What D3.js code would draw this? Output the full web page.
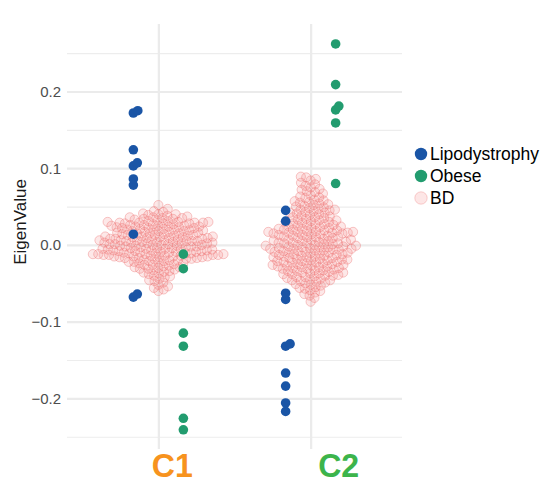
<!DOCTYPE html>
<html>
<head>
<meta charset="utf-8">
<script src="https://cdn.jsdelivr.net/npm/d3@7"></script>
<style>
  body { margin: 0; background: #fff; }
  svg { display: block; font-family: "Liberation Sans", Arial, Helvetica, sans-serif; }
</style>
</head>
<body>
<div id="chart"></div>
<script>
// clusters and labels
var categories = ["C1", "C2"];
var catColors = ["#F7931E", "#3CB44B"];
var yTicks = [-0.2, -0.1, 0.0, 0.1, 0.2];
var yMinor = [-0.25, -0.15, -0.05, 0.05, 0.15, 0.25];

// samples shown in colour
var lipoC1 = [0.172, 0.175, 0.124, 0.103, 0.107, 0.078, 0.086, 0.014, -0.068, -0.064];
var obeseC1 = [-0.012, -0.031, -0.115, -0.132, -0.226, -0.241];
var lipoC2 = [0.045, 0.031, -0.063, -0.071, -0.132, -0.129, -0.167, -0.184, -0.206, -0.217];
var obeseC2 = [0.262, 0.209, 0.176, 0.181, 0.159, 0.080];

// BD samples, values in thousandths
var bdC1 = [52, 47, 44, 43, 41, 40, 39, 38, 40, 37, 36, 35, 35, 34, 34, 33, 36,
  32, 31, 31, 30, 30, 30, 29, 29, 29, 29, 28, 28, 28, 27,
  27, 26, 26, 25, 25, 25, 24, 24, 24, 23, 23, 22, 22,
  22, 21, 21, 20, 20, 20, 19, 19, 18, 18, 18,
  17, 17, 16, 16, 15, 15, 15, 14, 14, 13, 13, 13,
  12, 12, 11, 11, 11, 10, 10, 10, 9, 9, 9, 8, 8, 8,
  7, 7, 6, 6, 6, 6, 5, 5, 5, 5, 4, 4, 4, 3, 3, 3,
  2, 2, 2, 1, 1, 1, 0, 0, 0, -1, -1, -1, -2, -2, -2,
  -3, -3, -4, -4, -4, -5, -5, -5, -6, -6, -6, -7, -7, -7, -8,
  -8, -8, -9, -9, -9, -10, -10, -10, -11, -11, -11, -11, -12, -12, -12, -12, -13, -13, -13, -13,
  -14, -14, -14, -15, -15, -15, -15, -16, -16, -16, -17, -17, -17,
  -18, -18, -19, -19, -20, -20, -21, -21, -22, -22,
  -23, -24, -24, -25, -26, -26, -27,
  -28, -29, -29, -30, -31, -31, -32,
  -33, -34, -35, -36, -37, -38, -40, -41, -42,
  -44, -46, -47, -49, -52, -54, -56, -58, -60];

var bdC2 = [89, 88, 86, 84, 81, 79, 77, 75, 73, 72, 70, 69, 67, 65, 63,
  62, 61, 59, 58, 57, 56, 55, 54, 53, 52, 51, 50, 49, 48,
  47, 46, 46, 45, 44, 43, 42, 42, 41, 40, 39, 38, 37, 36, 36, 35, 34, 33,
  32, 32, 31, 30, 30, 29, 28, 27, 27, 26, 26, 25, 24, 24, 23,
  22, 22, 21, 21, 20, 20, 19, 19, 18, 18,
  17, 17, 17, 16, 16, 16, 15, 15, 14, 14, 13, 13,
  12, 12, 11, 11, 10, 10, 9, 9, 8,
  7, 7, 6, 6, 5, 5, 4, 4, 3, 3,
  2, 2, 2, 1, 1, 0, 0, -1, -1, -2, -2,
  -3, -3, -3, -4, -4, -5, -5, -5, -6, -6, -7, -7,
  -8, -8, -9, -9, -10, -10, -10, -11, -11, -12, -12,
  -13, -13, -14, -14, -15, -15, -16, -16, -17, -17,
  -18, -18, -19, -19, -20, -20, -21, -21, -22, -22,
  -23, -23, -24, -24, -25, -25, -26, -26, -27, -27,
  -28, -28, -29, -29, -30, -30, -31, -31, -32,
  -33, -33, -34, -34, -35, -36, -36, -37, -37,
  -38, -38, -39, -40, -40, -41, -42, -42,
  -43, -44, -45, -46, -46, -47, -48, -49, -50, -51, -52,
  -53, -55, -56, -57, -59, -60, -62, -64, -66, -69, -74];

var groups = ["Lipodystrophy", "Obese", "BD"];

var W = 545, H = 485;
var panel = {left: 67, right: 402, top: 24, bottom: 449};

var svg = d3.select("#chart").append("svg")
  .attr("width", W)
  .attr("height", H);

var x = d3.scalePoint()
  .domain(categories)
  .range([panel.left, panel.right])
  .padding(0.6);

// dodge within a cluster
var dodge = d3.scalePoint()
  .domain(["Lipodystrophy", "BD", "Obese"])
  .range([-25, 25]);

var y = d3.scaleLinear()
  .domain([-0.266, 0.288])
  .range([panel.bottom, panel.top]);

// grid
svg.append("g")
  .attr("transform", "translate(" + panel.left + ",0)")
  .call(d3.axisLeft(y).tickValues(yMinor).tickSize(-(panel.right - panel.left)).tickFormat(""))
  .call(function(g) { g.select(".domain").remove(); })
  .selectAll("line").attr("stroke", "#EDEDED").attr("stroke-width", 1.2);

var gY = svg.append("g")
  .attr("transform", "translate(" + panel.left + ",0)")
  .call(d3.axisLeft(y).tickValues(yTicks).tickSize(-(panel.right - panel.left)).tickPadding(6).tickFormat(d3.format(".1f")));
gY.select(".domain").remove();
gY.selectAll("line").attr("stroke", "#EBEBEB").attr("stroke-width", 2.2);
gY.selectAll("text").attr("fill", "#4D4D4D").style("font-size", "15px");

svg.append("g")
  .attr("transform", "translate(0," + panel.bottom + ")")
  .call(d3.axisBottom(x).tickSize(-(panel.bottom - panel.top)).tickFormat(""))
  .call(function(g) { g.select(".domain").remove(); })
  .selectAll("line").attr("stroke", "#EBEBEB").attr("stroke-width", 2.2);

// simple swarm: place each point nearest the centre without overlap
function swarm(vals, d) {
  var pts = vals.map(function(v) { return {v: v, py: y(v)}; })
    .sort(function(a, b) { return a.v - b.v; });
  var placed = [];
  pts.forEach(function(p) {
    var near = placed.filter(function(q) { return Math.abs(q.py - p.py) < d; });
    var cands = [0];
    near.forEach(function(q) {
      var dx = Math.sqrt(d * d - (q.py - p.py) * (q.py - p.py));
      cands.push(q.dx + dx, q.dx - dx);
    });
    cands.sort(function(a, b) { return Math.abs(a) - Math.abs(b) || b - a; });
    p.dx = cands.find(function(c) {
      return near.every(function(q) {
        return (c - q.dx) * (c - q.dx) + (p.py - q.py) * (p.py - q.py) >= d * d - 1e-6;
      });
    });
    placed.push(p);
  });
  return pts;
}

var colored = [
  {cat: "C1", group: "Lipodystrophy", vals: lipoC1},
  {cat: "C1", group: "Obese", vals: obeseC1},
  {cat: "C2", group: "Lipodystrophy", vals: lipoC2},
  {cat: "C2", group: "Obese", vals: obeseC2}
];
var bd = [
  {cat: "C1", vals: bdC1.map(function(v) { return v / 1000; })},
  {cat: "C2", vals: bdC2.map(function(v) { return v / 1000; })}
];

var fillOf = {Lipodystrophy: "#1A55A6", Obese: "#229C6F"};

bd.forEach(function(s) {
  svg.append("g").selectAll("circle")
    .data(swarm(s.vals, 5.4))
    .enter().append("circle")
    .attr("cx", function(d) { return x(s.cat) + dodge("BD") + d.dx; })
    .attr("cy", function(d) { return d.py; })
    .attr("r", 4.6)
    .attr("fill", "rgba(245,140,140,0.2)")
    .attr("stroke", "rgba(236,110,110,0.38)")
    .attr("stroke-width", 1);
});

colored.forEach(function(s) {
  svg.append("g").selectAll("circle")
    .data(swarm(s.vals, 5))
    .enter().append("circle")
    .attr("cx", function(d) { return x(s.cat) + dodge(s.group) + d.dx; })
    .attr("cy", function(d) { return d.py; })
    .attr("r", 4.8)
    .attr("fill", fillOf[s.group]);
});

// cluster labels
svg.append("g").selectAll("text")
  .data(categories)
  .enter().append("text")
  .attr("x", function(d, i) { return x(d) + (i == 0 ? 14 : 28); })
  .attr("y", 477)
  .attr("text-anchor", "middle")
  .attr("font-weight", "bold")
  .attr("font-size", "34px")
  .attr("textLength", 41)
  .attr("lengthAdjust", "spacingAndGlyphs")
  .attr("fill", function(d, i) { return catColors[i]; })
  .text(function(d) { return d; });

// y label
svg.append("text")
  .attr("transform", "translate(26,222) rotate(-90)")
  .attr("text-anchor", "middle")
  .attr("font-size", "17px")
  .attr("fill", "#1a1a1a")
  .text("EigenValue");

// legend
var legend = svg.append("g").attr("transform", "translate(421,154)");
var items = legend.selectAll("g")
  .data(groups)
  .enter().append("g")
  .attr("transform", function(d, i) { return "translate(0," + (i * 22) + ")"; });
items.append("circle")
  .attr("r", 6.2)
  .attr("fill", function(d) { return d == "BD" ? "rgba(245,140,140,0.22)" : fillOf[d]; })
  .attr("stroke", function(d) { return d == "BD" ? "rgba(236,110,110,0.3)" : "none"; });
items.append("text")
  .attr("x", 9)
  .attr("dy", "0.36em")
  .attr("font-size", "17.5px")
  .attr("fill", "#000")
  .text(function(d) { return d; });
</script>
</body>
</html>
